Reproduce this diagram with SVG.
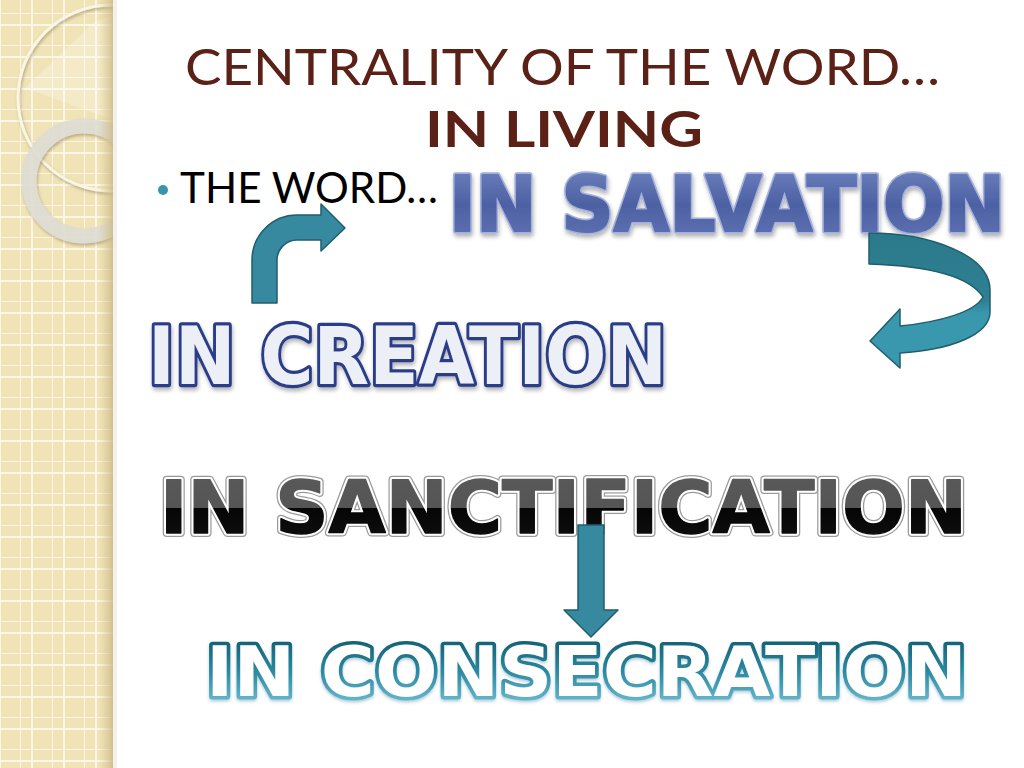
<svg xmlns="http://www.w3.org/2000/svg" width="1024" height="768" viewBox="0 0 1024 768">
<defs>
<style>
.title{font-family:"Lato","Liberation Sans",sans-serif;fill:#5b2016}
.art{font-family:"DejaVu Sans","Liberation Sans",sans-serif;font-weight:bold;stroke-linejoin:round}
.arrow{fill:#36899e;stroke:#1f5e6e;stroke-width:1.5;stroke-linejoin:round}
</style>
<pattern id="grid" x="20" y="13" width="32" height="32" patternUnits="userSpaceOnUse">
<rect width="32" height="32" fill="#f0e3b6"/>
<path d="M0,0V32M12,0V32M0,0H32M0,12H32" stroke="#fffaf0" stroke-width="2" opacity="0.85"/>
</pattern>
<linearGradient id="edge" x1="0" x2="1" y1="0" y2="0">
<stop offset="0" stop-color="#d9c894" stop-opacity="0"/>
<stop offset="1" stop-color="#c9b682" stop-opacity="0.8"/>
</linearGradient>
<linearGradient id="gSal" x1="0" y1="0" x2="0" y2="1">
<stop offset="0" stop-color="#7185c2"/>
<stop offset="0.5" stop-color="#4d61a3"/>
<stop offset="1" stop-color="#6275b6"/>
</linearGradient>
<linearGradient id="gSan" x1="0" y1="0" x2="0" y2="1">
<stop offset="0" stop-color="#5a5a5a"/>
<stop offset="0.5" stop-color="#555555"/>
<stop offset="0.51" stop-color="#060606"/>
<stop offset="1" stop-color="#111111"/>
</linearGradient>
<linearGradient id="gCon" x1="0" y1="0" x2="0" y2="1">
<stop offset="0" stop-color="#0d5568"/>
<stop offset="0.5" stop-color="#2c8aa2"/>
<stop offset="1" stop-color="#7cc8de"/>
</linearGradient>
<linearGradient id="gU" x1="0" y1="0" x2="0" y2="1">
<stop offset="0" stop-color="#2b7a8b"/>
<stop offset="0.5" stop-color="#2e8093"/>
<stop offset="0.6" stop-color="#3a98ae"/>
<stop offset="1" stop-color="#3a98ae"/>
</linearGradient>
<filter id="sh" filterUnits="userSpaceOnUse" x="0" y="0" width="1024" height="768">
<feDropShadow dx="1" dy="3" stdDeviation="2" flood-color="#000" flood-opacity="0.3"/>
</filter>
<filter id="csh" filterUnits="userSpaceOnUse" x="0" y="0" width="1024" height="768">
<feDropShadow dx="0" dy="2" stdDeviation="1.5" flood-color="#6b9fb0" flood-opacity="0.5"/>
</filter>
<filter id="rsh" x="-20%" y="-20%" width="140%" height="140%">
<feDropShadow dx="1" dy="2" stdDeviation="1.5" flood-color="#7a6a45" flood-opacity="0.5"/>
</filter>
<clipPath id="side"><rect x="0" y="0" width="113" height="768"/></clipPath>
</defs>
<rect width="1024" height="768" fill="#ffffff"/>
<g id="sidebar">
<rect x="0" y="0" width="113" height="768" fill="url(#grid)"/>
<g clip-path="url(#side)">
<path d="M25,88 L93,23 L113,15 L113,120 Z" fill="#fff" opacity="0.25"/>
<circle cx="111" cy="98" r="93" fill="none" stroke="#fbf6e4" stroke-width="3" filter="url(#rsh)"/>
<circle cx="84" cy="181" r="55" fill="none" stroke="#dedcd4" stroke-width="15" opacity="0.92" filter="url(#rsh)"/>
</g>
<rect x="98" y="0" width="15" height="768" fill="url(#edge)"/>
<rect x="113" y="0" width="4" height="768" fill="#e8e6e0" opacity="0.6"/>
</g>
<g id="title">
<text class="title" x="185" y="85" font-size="51" textLength="755" lengthAdjust="spacingAndGlyphs">CENTRALITY OF THE WORD…</text>
<text class="title" x="425" y="147" font-size="49" font-weight="bold" textLength="278" lengthAdjust="spacingAndGlyphs">IN LIVING</text>
</g>
<g id="bullet">
<circle cx="163" cy="190" r="5" fill="#3a95ac"/>
<text x="180" y="203" font-family="Lato,'Liberation Sans',sans-serif" font-size="42" fill="#000" textLength="258" lengthAdjust="spacingAndGlyphs">THE WORD…</text>
</g>
<g id="salvation" filter="url(#sh)">
<g transform="translate(449,231) scale(1,1.086)">
<text class="art" x="0" y="0" font-size="70" textLength="556" lengthAdjust="spacingAndGlyphs" fill="#a3b0da" stroke="#a3b0da" stroke-width="5">IN SALVATION</text>
<text class="art" x="0" y="0" font-size="70" textLength="556" lengthAdjust="spacingAndGlyphs" fill="url(#gSal)" stroke="url(#gSal)" stroke-width="2">IN SALVATION</text>
</g>
</g>
<g id="creation" filter="url(#sh)">
<text class="art" x="148" y="384" font-size="81" textLength="519" lengthAdjust="spacingAndGlyphs" fill="#2a3d88" stroke="#2a3d88" stroke-width="6.5">IN CREATION</text>
<text class="art" x="148" y="384" font-size="81" textLength="519" lengthAdjust="spacingAndGlyphs" fill="#edeff7">IN CREATION</text>
</g>
<g id="sanctification">
<text class="art" x="160" y="533" font-size="73" textLength="807" lengthAdjust="spacingAndGlyphs" fill="#9a9a9a" stroke="#9a9a9a" stroke-width="8">IN SANCTIFICATION</text>
<text class="art" x="160" y="533" font-size="73" textLength="807" lengthAdjust="spacingAndGlyphs" fill="#ffffff" stroke="#ffffff" stroke-width="5.5">IN SANCTIFICATION</text>
<text class="art" x="160" y="533" font-size="73" textLength="807" lengthAdjust="spacingAndGlyphs" fill="url(#gSan)" stroke="url(#gSan)" stroke-width="1.5">IN SANCTIFICATION</text>
</g>
<g id="consecration" filter="url(#csh)">
<text class="art" x="206" y="696" font-size="70" textLength="761" lengthAdjust="spacingAndGlyphs" fill="url(#gCon)" stroke="url(#gCon)" stroke-width="7">IN CONSECRATION</text>
<text class="art" x="206" y="696" font-size="70" textLength="761" lengthAdjust="spacingAndGlyphs" fill="#ffffff">IN CONSECRATION</text>
</g>
<g id="connectors">
<path class="arrow" d="M252,303 L252,260 A45,45 0 0 1 297,215 L321,215 L321,204 L345,228 L321,251 L321,240 L297,240 A20,20 0 0 0 277,260 L277,303 Z"/>
<path d="M869,233 C930,233 990,255 990,290 L990,312 C990,335 950,350 900,353 L900,368 L870,341 L900,309 L900,326 C940,322 975,312 983,297 C970,277 930,266 869,264 Z" fill="url(#gU)" stroke="#1f5e6e" stroke-width="1.5" stroke-linejoin="round"/>
<path class="arrow" d="M578,525 L604,525 L604,610 L618,610 L591,637 L564,610 L578,610 Z"/>
</g>
</svg>
